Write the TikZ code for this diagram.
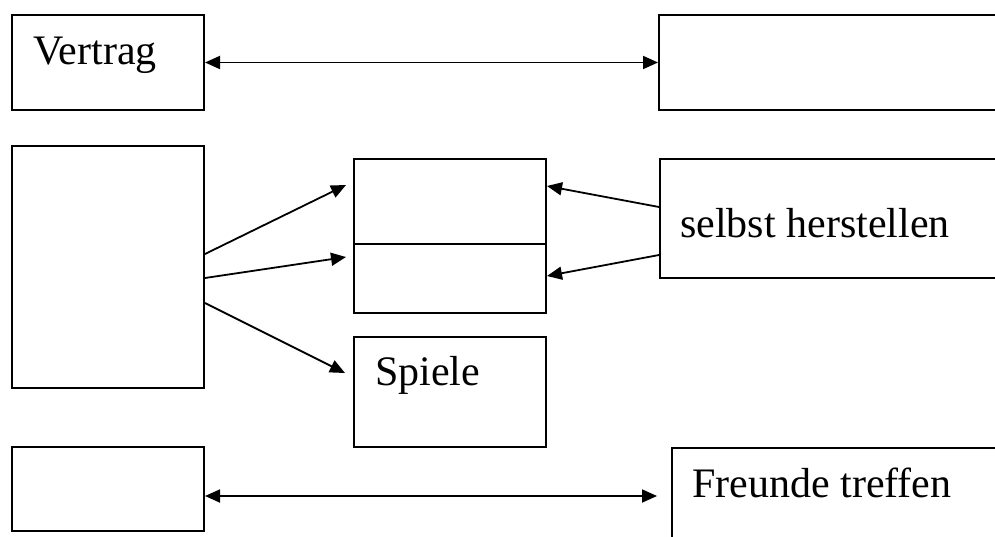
\documentclass[tikz,border=0pt]{standalone}
\usepackage{fontspec}
\setmainfont{Liberation Serif}
\usetikzlibrary{arrows.meta}
\begin{document}
\begin{tikzpicture}[x=1pt,y=-1pt,
    box/.style={draw,line width=2pt,inner sep=0pt,anchor=north west},
    txt/.style={anchor=base west,inner sep=0pt,font=\fontsize{42}{50}\selectfont},
    arr/.style={line width=1.8pt,-{Triangle[length=15pt,width=13pt]}},
    dblarr/.style={line width=1.8pt,{Triangle[length=15pt,width=13pt]}-{Triangle[length=15pt,width=13pt]}}]
  \useasboundingbox (0,0) rectangle (995,537);
  \clip (0,0) rectangle (995,537);
  \draw
    (11,14) node[box,minimum width=192pt,minimum height=95pt] (vertrag){}
    (658,14) node[box,minimum width=360pt,minimum height=95pt] (oben){}
    (11,145) node[box,minimum width=192pt,minimum height=242pt] (links){}
    (353,158) node[box,minimum width=192pt,minimum height=85pt] (eins){}
    (353,243) node[box,minimum width=192pt,minimum height=69pt] (zwei){}
    (659,158) node[box,minimum width=360pt,minimum height=119pt] (selbst){}
    (353,336) node[box,minimum width=192pt,minimum height=110pt] (spiele){}
    (11,446) node[box,minimum width=192pt,minimum height=84pt] (unten){}
    (671,447) node[box,minimum width=360pt,minimum height=120pt] (freunde){};
  \node[txt] (tvertrag) at (33,65) {Vertrag};
  \node[txt] (tselbst) at (680,238) {selbst herstellen};
  \node[txt] (tspiele) at (375,385) {Spiele};
  \node[txt] (tfreunde) at (692,497) {Freunde treffen};
  \begin{scope}[dblarr]
    \draw (vertrag) -- (oben);
    \draw ([yshift=-7pt]unten.east) -- ([xshift=-14pt,yshift=-7pt]freunde.west |- unten.east);
  \end{scope}
  \begin{scope}[arr]
    \draw ([yshift=13pt]links.east) -- ([xshift=-7pt,yshift=16.5pt]eins.west);
    \draw ([yshift=-11pt]links.east) -- ([xshift=-7pt,yshift=21.5pt]zwei.west);
    \draw ([yshift=-36pt]links.east) -- ([xshift=-8pt,yshift=19pt]spiele.west);
    \draw ([yshift=11.5pt]selbst.west) -- ([yshift=15.5pt]eins.east);
    \draw ([yshift=-36.5pt]selbst.west) -- ([yshift=2.5pt]zwei.east);
  \end{scope}
\end{tikzpicture}
\end{document}
